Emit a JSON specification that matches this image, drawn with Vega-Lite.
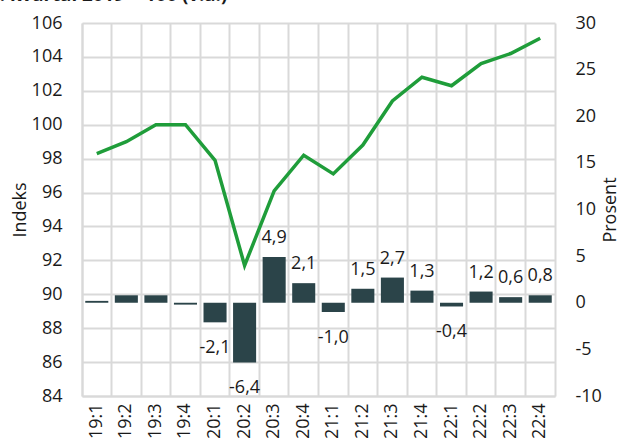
{
  "$schema": "https://vega.github.io/schema/vega-lite/v6.json",
  "width": 473,
  "height": 373,
  "autosize": {"type": "none"},
  "padding": {"left": 82, "top": 23, "right": 65, "bottom": 47},
  "title": {
    "text": "1. kvartal 2019 = 100 (v.a.)",
    "anchor": "start",
    "frame": "bounds",
    "fontSize": 18.7,
    "fontWeight": "bold",
    "font": "Open Sans",
    "color": "#1a1a1a",
    "baseline": "alphabetic",
    "offset": -6,
    "dx": -22
  },
  "config": {
    "locale": {
      "number": {"decimal": ",", "thousands": " ", "grouping": [3], "currency": ["", " kr"], "minus": "-"}
    },
    "font": "Open Sans",
    "view": {"stroke": null},
    "axis": {
      "labelFont": "Open Sans",
      "titleFont": "Open Sans",
      "labelFontSize": 18,
      "titleFontSize": 18,
      "titleFontWeight": "normal",
      "labelColor": "#1a1a1a",
      "titleColor": "#1a1a1a",
      "gridColor": "#d9d9d9",
      "gridWidth": 2,
      "domainColor": "#d9d9d9",
      "domainWidth": 2,
      "ticks": false,
      "tickSize": 0
    }
  },
  "data": {
    "values": [
      {"q": "19:1", "index": 98.3, "change": 0.2},
      {"q": "19:2", "index": 99.0, "change": 0.8},
      {"q": "19:3", "index": 100.0, "change": 0.8},
      {"q": "19:4", "index": 100.0, "change": -0.2},
      {"q": "20:1", "index": 97.9, "change": -2.1},
      {"q": "20:2", "index": 91.7, "change": -6.4},
      {"q": "20:3", "index": 96.1, "change": 4.9},
      {"q": "20:4", "index": 98.2, "change": 2.1},
      {"q": "21:1", "index": 97.1, "change": -1.0},
      {"q": "21:2", "index": 98.8, "change": 1.5},
      {"q": "21:3", "index": 101.4, "change": 2.7},
      {"q": "21:4", "index": 102.8, "change": 1.3},
      {"q": "22:1", "index": 102.3, "change": -0.4},
      {"q": "22:2", "index": 103.6, "change": 1.2},
      {"q": "22:3", "index": 104.2, "change": 0.6},
      {"q": "22:4", "index": 105.1, "change": 0.8}
    ]
  },
  "encoding": {
    "x": {
      "field": "q",
      "type": "ordinal",
      "sort": null,
      "scale": {"paddingInner": 0, "paddingOuter": 0},
      "axis": {
        "title": null,
        "orient": "bottom",
        "labelAngle": -90,
        "labelAlign": "right",
        "labelBaseline": "middle",
        "labelPadding": 7,
        "grid": true,
        "bandPosition": 0,
        "domain": true
      }
    }
  },
  "layer": [
    {
      "encoding": {
        "y": {
          "field": "change",
          "type": "quantitative",
          "scale": {"domain": [-10, 30], "nice": false, "zero": false},
          "axis": {
            "orient": "right",
            "title": "Prosent",
            "titleAngle": -90,
            "titleBaseline": "top",
            "titlePadding": 0,
            "values": [-10, -5, 0, 5, 10, 15, 20, 25, 30],
            "format": "d",
            "grid": false,
            "labelPadding": 20,
            "domain": true
          }
        }
      },
      "layer": [
        {
          "mark": {"type": "bar", "color": "#2b4449", "width": {"band": 0.78}}
        },
        {
          "transform": [
            {"filter": "datum.change > 0 && indexof(['19:1','19:2','19:3','19:4'], datum.q) < 0"}
          ],
          "mark": {"type": "text", "fontSize": 18, "font": "Open Sans", "color": "#1a1a1a", "baseline": "alphabetic", "dy": -14},
          "encoding": {
            "text": {"field": "change", "type": "quantitative", "format": ".1f"}
          }
        },
        {
          "transform": [
            {"filter": "datum.change < 0 && indexof(['19:1','19:2','19:3','19:4'], datum.q) < 0"}
          ],
          "mark": {"type": "text", "fontSize": 18, "font": "Open Sans", "color": "#1a1a1a", "baseline": "top", "dy": 17},
          "encoding": {
            "text": {"field": "change", "type": "quantitative", "format": ".1f"}
          }
        }
      ]
    },
    {
      "mark": {"type": "line", "color": "#1f9d3a", "strokeWidth": 3.5},
      "encoding": {
        "y": {
          "field": "index",
          "type": "quantitative",
          "scale": {"domain": [84, 106], "nice": false, "zero": false},
          "axis": {
            "orient": "left",
            "title": "Indeks",
            "titlePadding": 2,
            "values": [84, 86, 88, 90, 92, 94, 96, 98, 100, 102, 104, 106],
            "format": "d",
            "grid": true,
            "labelPadding": 20,
            "domain": true
          }
        }
      }
    }
  ],
  "resolve": {"scale": {"y": "independent"}}
}
